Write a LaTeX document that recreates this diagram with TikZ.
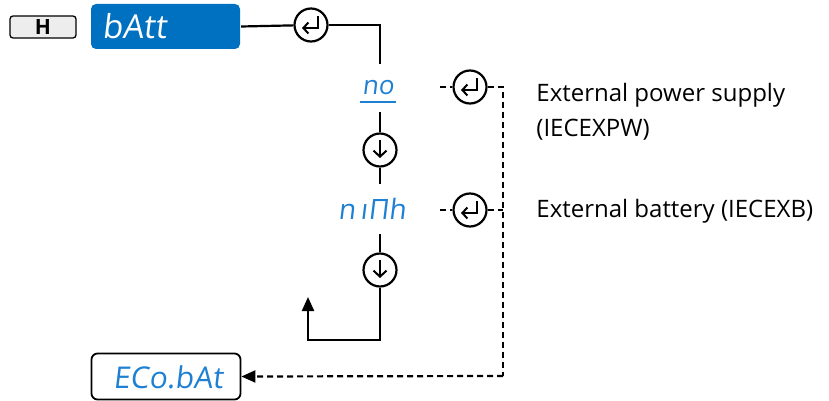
\documentclass[tikz,border=0pt]{standalone}
\usepackage{fontspec}
\setmainfont{Open Sans}
\newfontfamily\segfont[FakeSlant=0.12]{Open Sans}
\usetikzlibrary{arrows.meta}
\definecolor{boxblue}{HTML}{0070C0}
\definecolor{segblue}{HTML}{1E80D2}
\begin{document}
\begin{tikzpicture}[x=1pt,y=-1pt, line width=2.2pt,
  ring/.style={circle, draw, line width=2.2pt, minimum size=33pt, inner sep=0pt, fill=white},
  dashline/.style={line width=2.2pt, dash pattern=on 6pt off 4pt},
  seg/.style={font=\segfont\fontsize{30}{30}\selectfont, text=segblue},
  note/.style={anchor=west, align=left, font=\fontsize{24}{35}\selectfont},
  pics/enterico/.style={code={
    \draw[line width=2pt, -{Straight Barb[length=5pt,width=11pt]}] (7,-9) -- (7,3) -- (-9,3);}},
  pics/downico/.style={code={
    \draw[line width=2pt, -{Straight Barb[length=6pt,width=13pt]}] (0,-10) -- (0,8);}}]
\useasboundingbox (0,0) rectangle (829,401);

% H key
\node[draw, line width=1.3pt, rounded corners=3pt, fill=black!7, minimum width=66pt, minimum height=22pt, inner sep=0pt,
      font=\bfseries\fontsize{21}{21}\selectfont] (hkey) at (43,27) {H};

% bAtt display
\node[fill=boxblue, rounded corners=5pt, minimum width=149pt, minimum height=45pt, inner sep=0pt] (batt) at (165.5,26.5) {};
\node[anchor=west, font=\segfont\fontsize{33}{33}\selectfont, text=white, inner sep=0pt] (batttxt) at (101,26) {bAtt};

% top enter
\node[ring] (e1) at (311,25) {};
\pic at (e1) {enterico};
\coordinate (c1) at (380,25);

% no
\node[seg, font=\segfont\fontsize{26}{26}\selectfont, minimum height=46pt, inner sep=0pt] (no) at (378,88) {no};
\draw[segblue, line width=1.6pt] (360,102) -- (396,102);

% down 1
\node[ring] (d1) at (380,150) {};
\pic at (d1) {downico};

% mAh
\node[seg, font=\segfont\fontsize{28}{28}\selectfont, minimum height=48pt, inner sep=0pt] (mah) at (372,209) {n\,ı\kern1ptΠh};

% down 2
\node[ring] (d2) at (380,270) {};
\pic at (d2) {downico};
\coordinate (lc1) at (380,340);
\coordinate (lc2) at (308,340);
\coordinate (lc3) at (308,297);

\draw (batt.east) -- (e1);
\draw (e1) -- (c1) -- (c1 |- no.north);
\draw (d1.north) -- (d1.north |- no.south);
\draw (d1.south) -- (d1.south |- mah.north);
\draw (d2.north) -- (d2.north |- mah.south);
\draw[-{Triangle[length=14pt,width=12pt]}] (d2) -- (lc1) -- (lc2) -- (lc3);

% enter right
\coordinate (s1) at (440,87);
\coordinate (s2) at (440,210);
\node[ring] (e2) at (470,87) {};
\pic at (e2) {enterico};
\node[ring] (e3) at (470,210) {};
\pic at (e3) {enterico};
\coordinate (r1) at (503,87);
\coordinate (r2) at (503,210);
\coordinate (r3) at (503,376);

% ECo.bAt
\node[draw, line width=1.8pt, rounded corners=6pt, minimum width=149pt, minimum height=46pt, inner sep=0pt] (eco) at (166,376.5) {};
\node[seg, inner sep=0pt] (ecotxt) at (168,377) {ECo.bAt};

\draw[dashline] (s1) -- (e2);
\draw[dashline] (s2) -- (e3);
\draw[dashline] (e2) -- (r1) -- (r3);
\draw[dashline] (e3) -- (r2);
\draw[dashline, -{Triangle[length=14pt,width=12pt]}] (r3) -- (eco.east);

% notes
\node[note] (n1) at (532,112) {External power supply\\(IECEXPW)};
\node[note] (n2) at (532,211) {External battery (IECEXB)};
\end{tikzpicture}
\end{document}
